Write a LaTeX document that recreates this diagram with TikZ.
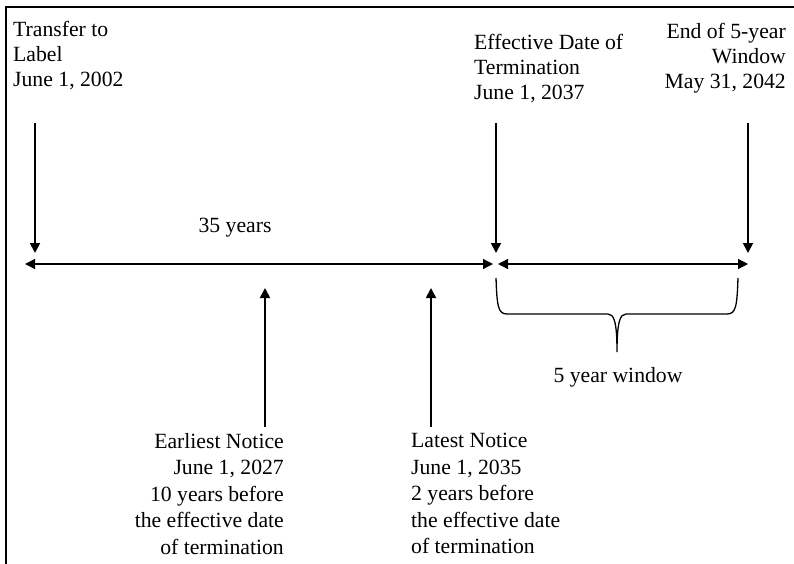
\documentclass[tikz,border=0pt]{standalone}
\usepackage{fontspec}
\setmainfont{Liberation Serif}
\usetikzlibrary{arrows.meta}

\begin{document}
\begin{tikzpicture}[
    x=1pt, y=-1pt,
    lbl/.style={inner sep=0pt, font=\fontsize{21.7}{25}\selectfont},
    lowlbl/.style={lbl, font=\fontsize{21.7}{26.5}\selectfont},
    arrow/.style={-{Triangle[length=10pt,width=10pt]}, line width=1.8pt},
    span/.style={{Triangle[length=10pt,width=10pt]}-{Triangle[length=10pt,width=10pt]}, line width=1.3pt},
    brace/.style={line width=1.3pt}
]
\useasboundingbox (0,0) rectangle (794,564);
\draw[line width=2.5pt] (6,564) -- (6,7) -- (794,7);

\node[lbl, align=left, anchor=north west] (xfer) at (13,21) {Transfer to\\Label\\June 1, 2002};
\node[lbl, align=left, anchor=north west] (eff) at (474,34) {Effective Date of\\Termination\\June 1, 2037};
\node[lbl, align=right, anchor=north east] (end) at (786,23) {End of 5-year\\Window\\May 31, 2042};
\node[lowlbl, align=right, anchor=north east] (early) at (284,433) {Earliest Notice\\June 1, 2027\\10 years before\\the effective date\\of termination};
\node[lowlbl, align=left, anchor=north west] (late) at (411,433) {Latest Notice\\June 1, 2035\\2 years before\\the effective date\\of termination};
\node[lbl] (yrs) at (235,228) {35 years};
\node[lbl] (win) at (618,377) {5 year window};

\coordinate (xfer-a) at (35,123);  \coordinate (xfer-b) at (35,253);
\coordinate (eff-a) at (496,123);  \coordinate (eff-b) at (496,253);
\coordinate (end-a) at (748,123);  \coordinate (end-b) at (748,253);
\coordinate (early-a) at (265,427); \coordinate (early-b) at (265,288);
\coordinate (late-a) at (431,427);  \coordinate (late-b) at (431,288);
\coordinate (t0) at (25,264);  \coordinate (t1) at (493,264);
\coordinate (t2) at (498,264); \coordinate (t3) at (748,264);

\draw[arrow] (xfer-a) -- (xfer-b);
\draw[arrow] (eff-a) -- (eff-b);
\draw[arrow] (end-a) -- (end-b);
\draw[arrow] (early-a) -- (early-b);
\draw[arrow] (late-a) -- (late-b);
\draw[span] (t0) -- (t1);
\draw[span] (t2) -- (t3);

\draw[brace] (496,278) .. controls (497,306) and (498,314) .. (507,314) -- (608,314)
  .. controls (614,314) and (617,322) .. (617,352)
  .. controls (617,322) and (620,314) .. (626,314) -- (727,314)
  .. controls (736,314) and (737,306) .. (738,278);
\end{tikzpicture}
\end{document}
